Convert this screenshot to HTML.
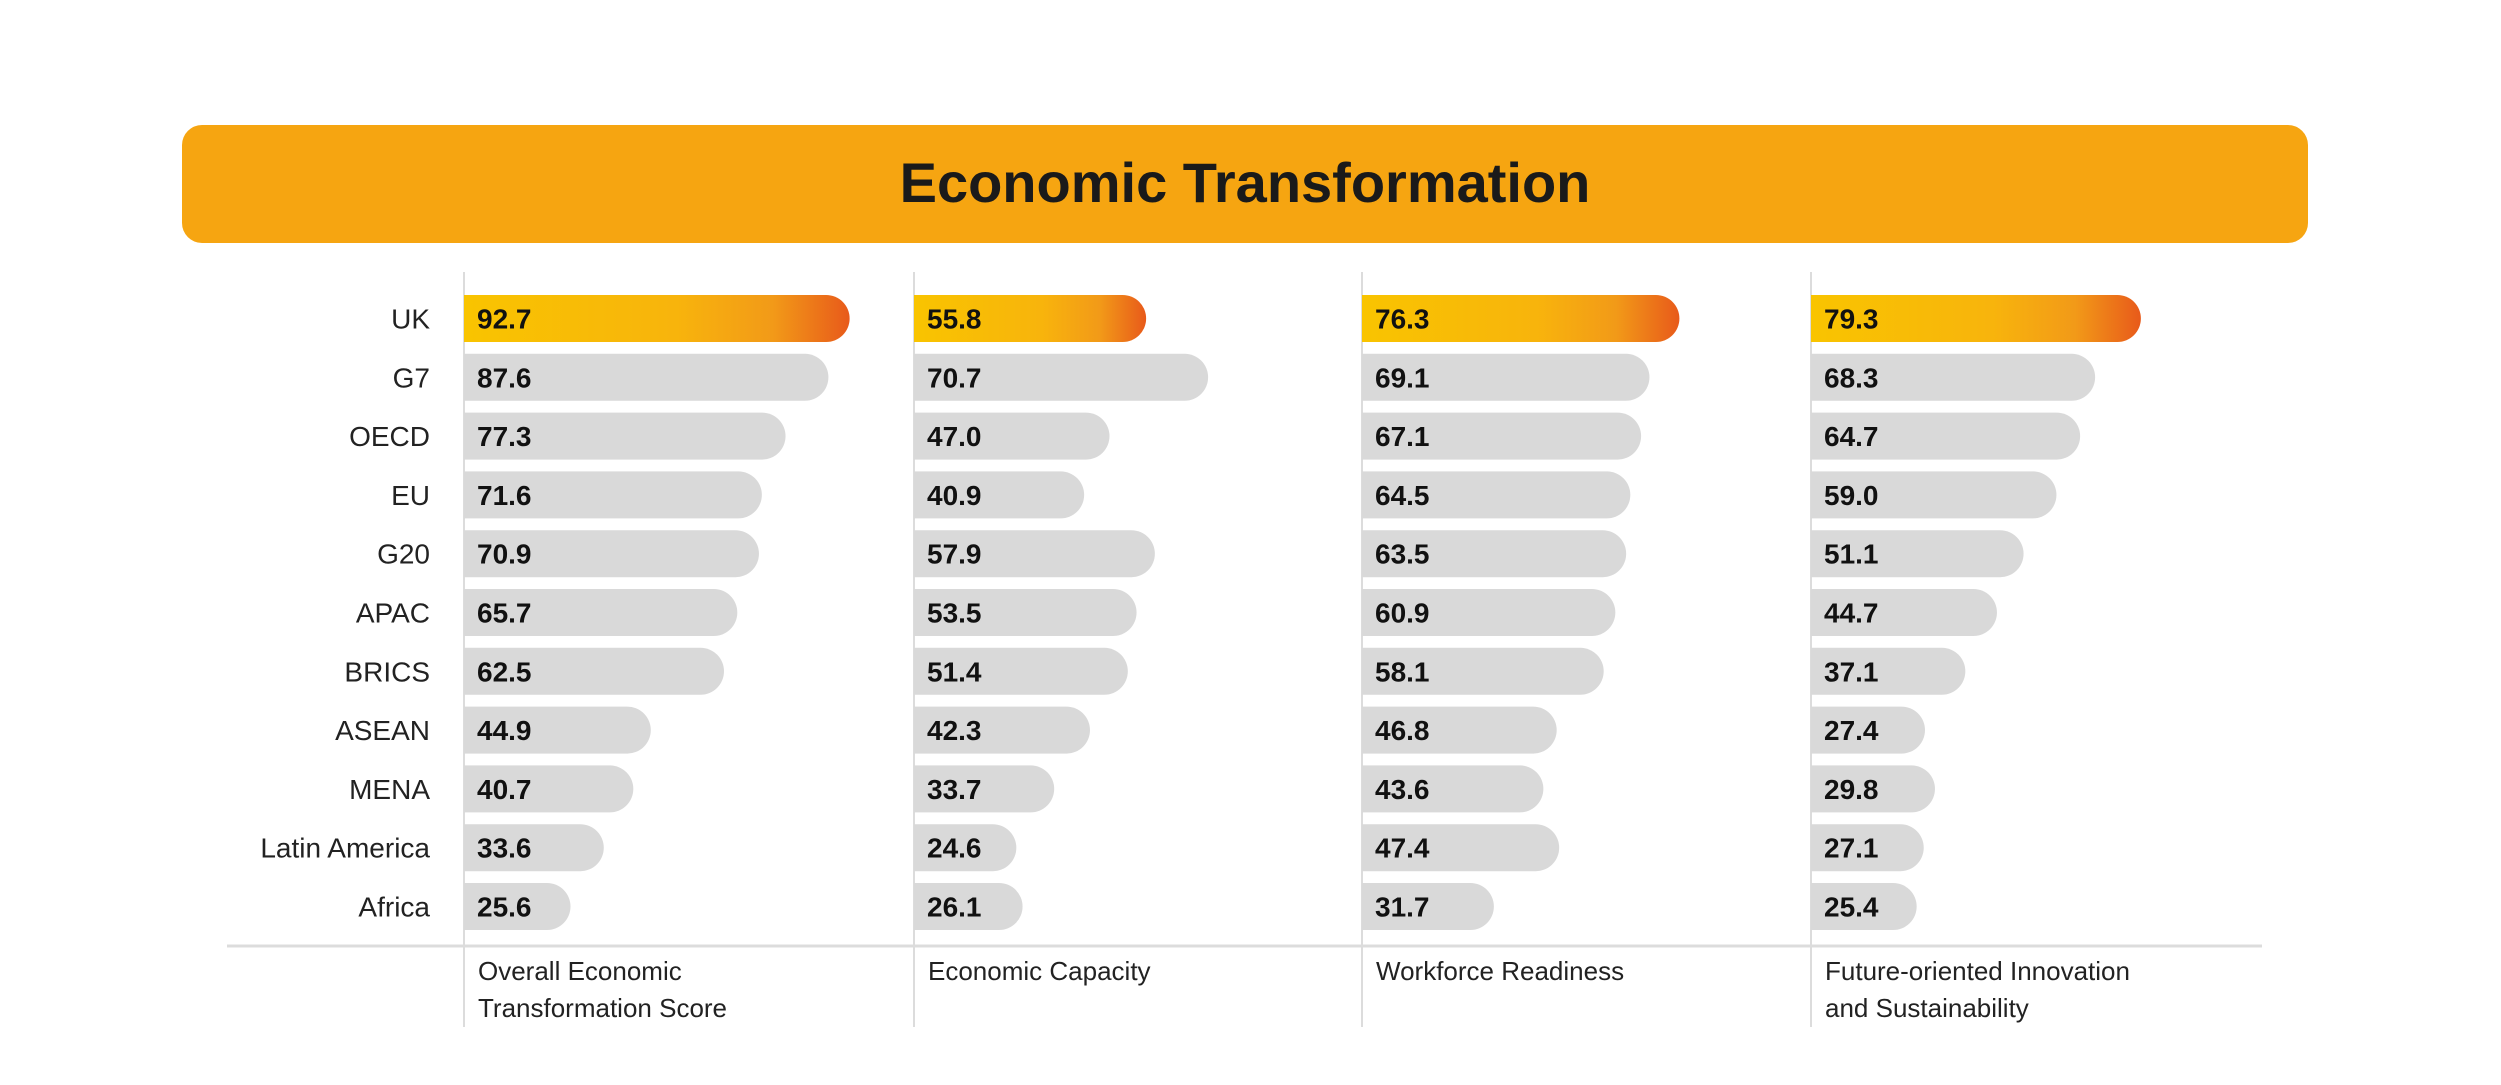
<!DOCTYPE html>
<html><head><meta charset="utf-8"><style>
body{margin:0;width:2501px;height:1085px;background:#fff;overflow:hidden;font-family:"Liberation Sans",sans-serif}
svg{display:block}
</style></head><body>
<svg id="chart" width="2501" height="1085">
<defs><linearGradient id="hl" x1="0" x2="1" y1="0" y2="0">
<stop offset="0" stop-color="#f9c400"/><stop offset="0.55" stop-color="#f8b40c"/><stop offset="0.8" stop-color="#f29a18"/><stop offset="1" stop-color="#e85a1a"/></linearGradient></defs>
<rect x="182" y="125" width="2126" height="118" rx="20" fill="#f6a511"/>
<text x="1245" y="202" text-anchor="middle" font-size="56" font-weight="bold" fill="#1a1a1a">Economic Transformation</text>
<line x1="227" y1="946" x2="2262" y2="946" stroke="#dcdcdc" stroke-width="3"/>
</svg>
<script>
const regions=["UK","G7","OECD","EU","G20","APAC","BRICS","ASEAN","MENA","Latin America","Africa"];
const overall=[92.7,87.6,77.3,71.6,70.9,65.7,62.5,44.9,40.7,33.6,25.6];
const capacity=[55.8,70.7,47.0,40.9,57.9,53.5,51.4,42.3,33.7,24.6,26.1];
const workforce=[76.3,69.1,67.1,64.5,63.5,60.9,58.1,46.8,43.6,47.4,31.7];
const innovation=[79.3,68.3,64.7,59.0,51.1,44.7,37.1,27.4,29.8,27.1,25.4];
const seriesTitles=[["Overall Economic","Transformation Score"],["Economic Capacity"],["Workforce Readiness"],["Future-oriented Innovation","and  Sustainability"]];
const series=[overall,capacity,workforce,innovation];
const svg=document.getElementById('chart');const NS='http://www.w3.org/2000/svg';
const colX=[464,914,1362,1811];const pxPerUnit=4.16;
const rowY=i=>295+58.8*i;const barH=47;
function mk(t,a){const e=document.createElementNS(NS,t);for(const k in a)e.setAttribute(k,a[k]);svg.appendChild(e);return e;}
function barPath(x,y,w,h){const r=Math.min(h/2,w);return `M${x},${y}H${x+w-r}A${r},${r} 0 0 1 ${x+w-r},${y+h}H${x}Z`;}
regions.forEach((r,i)=>{
 const t=mk('text',{x:430,y:rowY(i)+barH/2+10,'text-anchor':'end','font-size':28,fill:'#222'});
 t.textContent=r;
 
 
});
series.forEach((vals,c)=>{
 const x0=colX[c];
 const ax=mk('line',{x1:x0,y1:272,x2:x0,y2:1027,stroke:'#dcdcdc','stroke-width':2});
 
 
 vals.forEach((v,i)=>{
  const p=mk('path',{d:barPath(x0,rowY(i),v*pxPerUnit,barH),fill:i===0?'url(#hl)':'#d9d9d9'});
  
  
  const t=mk('text',{x:x0+13,y:rowY(i)+barH/2+10,'font-size':28,'font-weight':'bold',fill:'#111'});
  t.textContent=v.toFixed(1);
  
  
 });
 seriesTitles[c].forEach((ln,k)=>{
  const t=mk('text',{x:x0+14,y:980+k*37,'font-size':26,fill:'#222','xml:space':'preserve'});
  t.textContent=ln;
  
  
 });
});
</script>
</body></html>
